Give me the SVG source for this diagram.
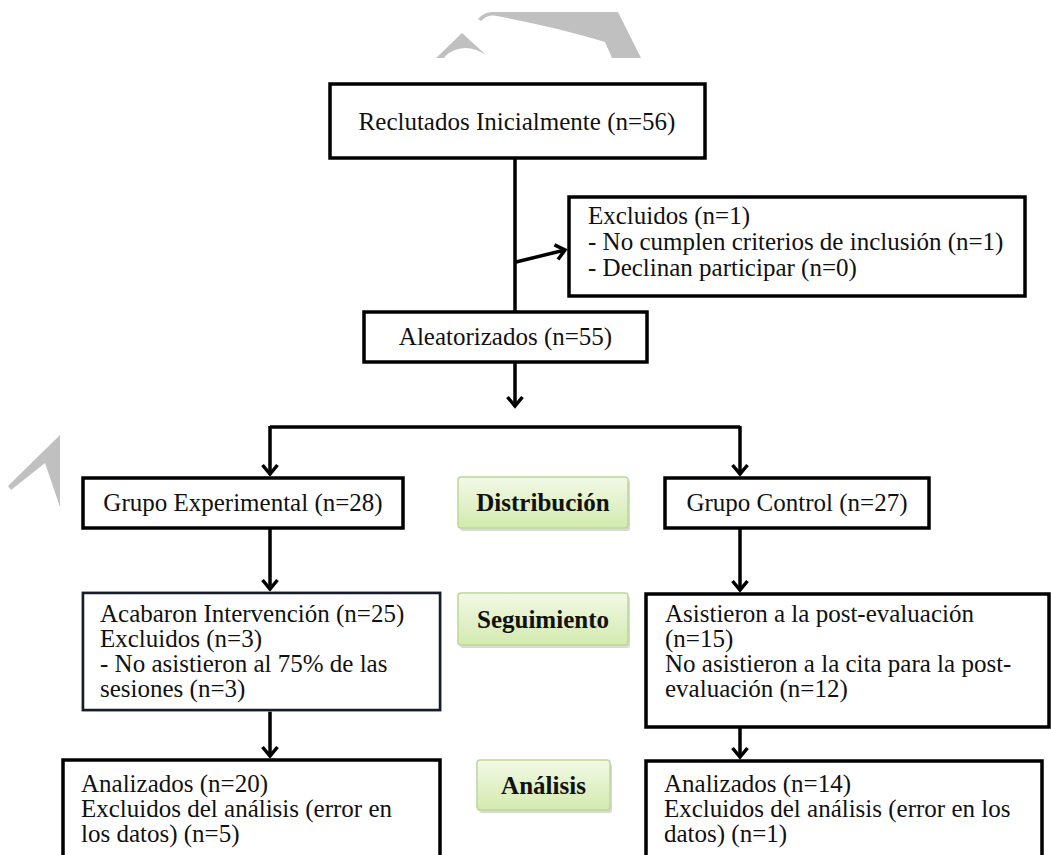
<svg xmlns="http://www.w3.org/2000/svg" width="1051" height="855" viewBox="0 0 1051 855">
<defs>
<style>
.box{fill:#fff;stroke:#000;stroke-width:3.5}
.t{font-family:"Liberation Serif","Times New Roman",serif;font-size:25px;fill:#111}
.c{text-anchor:middle}
.lbl{fill:url(#g);stroke:#bcd79a;stroke-width:1.5}
.lt{font-family:"Liberation Serif","Times New Roman",serif;font-size:25px;font-weight:bold;fill:#111;text-anchor:middle}
.sh{fill:#d9d9d9}
.ln{fill:none;stroke:#000;stroke-width:3.5}
.wm{fill:#c0c0c0}
</style>
<linearGradient id="g" x1="0" y1="0" x2="0" y2="1">
<stop offset="0" stop-color="#f2f9e6"/>
<stop offset="1" stop-color="#d3eaae"/>
</linearGradient>
<marker id="ah" markerUnits="userSpaceOnUse" markerWidth="24" markerHeight="24" viewBox="-12 -12 24 24" refX="0" refY="0" orient="auto" overflow="visible">
<path d="M-9,-7.5 L0,0 L-9,7.5" fill="none" stroke="#000" stroke-width="3.5"/>
</marker>
</defs>
<rect width="1051" height="855" fill="#fff"/>
<g id="watermark">
<path class="wm" d="M436,58 L462,33 L486,55 Q470,44 455,50 Q447,53 444,58 Z"/>
<path class="wm" d="M478,19 Q484,12 492,12 L618,12 L641,58 L612,58 L605,42 Q560,28 497,16 Q488,14 481,21 Z"/>
<path class="wm" d="M60,435 L8,486 L11,490 Q25,479 45,463 L60,507 Z"/>
</g>
<g id="connectors">
<path class="ln" d="M515,158 L515,312"/>
<path class="ln" d="M516,262 L565,250" marker-end="url(#ah)"/>
<path class="ln" d="M515,362 L515,406" marker-end="url(#ah)"/>
<path class="ln" d="M270,427 L740,427"/>
<path class="ln" d="M270,426 L270,474" marker-end="url(#ah)"/>
<path class="ln" d="M740,426 L740,474" marker-end="url(#ah)"/>
<path class="ln" d="M270,528 L270,589" marker-end="url(#ah)"/>
<path class="ln" d="M740,528 L740,590" marker-end="url(#ah)"/>
<path class="ln" d="M270,711 L270,756" marker-end="url(#ah)"/>
<path class="ln" d="M740,728 L740,757" marker-end="url(#ah)"/>
</g>
<g id="n-reclutados">
<rect class="box" x="330" y="84" width="375" height="74"/>
<text class="t c" x="517" y="130">Reclutados Inicialmente (n=56)</text>
</g>
<g id="n-excluidos">
<rect class="box" x="569" y="197" width="456" height="99"/>
<text class="t" x="588" y="224">Excluidos (n=1)</text>
<text class="t" x="588" y="250">- No cumplen criterios de inclusión (n=1)</text>
<text class="t" x="588" y="276">- Declinan participar (n=0)</text>
</g>
<g id="n-aleatorizados">
<rect class="box" x="364" y="312" width="283" height="50"/>
<text class="t c" x="505.5" y="345">Aleatorizados (n=55)</text>
</g>
<g id="n-experimental">
<rect class="box" x="83" y="478" width="320" height="50"/>
<text class="t c" x="243" y="511">Grupo Experimental (n=28)</text>
</g>
<g id="n-control">
<rect class="box" x="665" y="478" width="264" height="50"/>
<text class="t c" x="797" y="511">Grupo Control (n=27)</text>
</g>
<g id="l-distribucion">
<rect class="sh" x="460" y="480" width="170" height="51" rx="3"/>
<rect class="lbl" x="458" y="477" width="170" height="51" rx="3"/>
<text class="lt" x="543" y="511">Distribución</text>
</g>
<g id="n-acabaron">
<rect x="82" y="592" width="359" height="119" fill="none" stroke="#a9bfdc" stroke-width="1.5"/>
<rect x="83" y="593" width="357" height="117" fill="#fff" stroke="#151b28" stroke-width="2.5"/>
<text class="t" x="100" y="622">Acabaron Intervención (n=25)</text>
<text class="t" x="100" y="647">Excluidos (n=3)</text>
<text class="t" x="100" y="672">- No asistieron al 75% de las</text>
<text class="t" x="100" y="697">sesiones (n=3)</text>
</g>
<g id="l-seguimiento">
<rect class="sh" x="460" y="596" width="170" height="52" rx="3"/>
<rect class="lbl" x="458" y="593" width="170" height="52" rx="3"/>
<text class="lt" x="543" y="628">Seguimiento</text>
</g>
<g id="n-asistieron">
<rect class="box" x="646" y="594" width="403" height="133"/>
<text class="t" x="665" y="622">Asistieron a la post-evaluación</text>
<text class="t" x="665" y="647">(n=15)</text>
<text class="t" x="665" y="672">No asistieron a la cita para la post-</text>
<text class="t" x="665" y="697">evaluación (n=12)</text>
</g>
<g id="n-analizados-exp">
<rect class="box" x="63" y="760" width="377" height="110"/>
<text class="t" x="81" y="792">Analizados (n=20)</text>
<text class="t" x="81" y="817">Excluidos del análisis (error en</text>
<text class="t" x="81" y="842">los datos) (n=5)</text>
</g>
<g id="l-analisis">
<rect class="sh" x="479" y="763" width="133" height="50" rx="3"/>
<rect class="lbl" x="477" y="760" width="133" height="50" rx="3"/>
<text class="lt" x="543.5" y="794">Análisis</text>
</g>
<g id="n-analizados-ctl">
<rect class="box" x="646" y="761" width="396" height="110"/>
<text class="t" x="664" y="792">Analizados (n=14)</text>
<text class="t" x="664" y="817">Excluidos del análisis (error en los</text>
<text class="t" x="664" y="842">datos) (n=1)</text>
</g>
</svg>
